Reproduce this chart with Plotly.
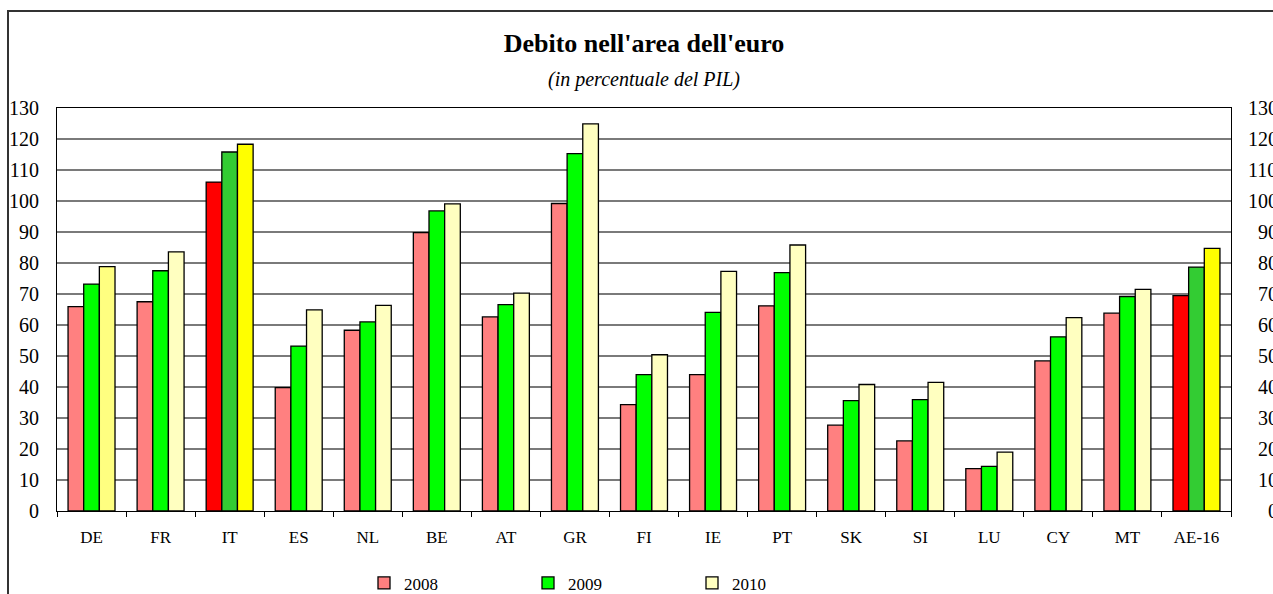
import plotly.graph_objects as go

countries = ["DE", "FR", "IT", "ES", "NL", "BE", "AT", "GR", "FI", "IE", "PT", "SK", "SI", "LU", "CY", "MT", "AE-16"]
debt_2008 = [65.9, 67.5, 106.1, 39.8, 58.3, 89.8, 62.6, 99.2, 34.3, 44.0, 66.2, 27.7, 22.6, 13.7, 48.4, 63.8, 69.5]
debt_2009 = [73.2, 77.5, 115.8, 53.2, 61.0, 96.8, 66.6, 115.3, 44.0, 64.1, 76.9, 35.6, 35.9, 14.4, 56.2, 69.2, 78.7]
debt_2010 = [78.8, 83.6, 118.3, 64.9, 66.3, 99.1, 70.3, 124.9, 50.4, 77.3, 85.8, 40.8, 41.5, 19.0, 62.4, 71.5, 84.7]
years = ["2008", "2009", "2010"]
y_ticks = list(range(0, 131, 10))
# right-axis labels padded with figure spaces so they read right-aligned
y_ticks_right = ["\u2007" * (3 - len(str(v))) + str(v) for v in y_ticks]

base_colors = {"2008": "#FF8080", "2009": "#00FF00", "2010": "#FFFFC0"}
highlight_colors = {"2008": "#FF0000", "2009": "#33CC33", "2010": "#FFFF00"}
highlight = {"IT", "AE-16"}

FONT = "Liberation Serif"

fig = go.Figure()
series = {"2008": debt_2008, "2009": debt_2009, "2010": debt_2010}
for yr in years:
    cols = []
    for c in countries:
        if c in highlight:
            cols.append(highlight_colors[yr])
        elif c == "DE" and yr == "2010":
            cols.append("#FFFF80")
        else:
            cols.append(base_colors[yr])
    fig.add_trace(go.Bar(
        x=countries, y=series[yr], name=yr, offsetgroup=yr,
        marker=dict(color=cols, line=dict(color="#000000", width=1.3)),
        showlegend=False,
    ))
# legend entries
for yr in years:
    fig.add_trace(go.Bar(
        x=[countries[0]], y=[None], name=yr, offsetgroup=yr,
        marker=dict(color=base_colors[yr], line=dict(color="#000000", width=1.3)),
        showlegend=True,
    ))

# invisible trace to drive right axis
fig.add_trace(go.Scatter(x=[countries[0]], y=[None], yaxis="y2", showlegend=False, hoverinfo="skip"))

fig.update_layout(
    width=1273, height=594,
    margin=dict(l=57, r=42, t=108, b=83, autoexpand=False),
    paper_bgcolor="white", plot_bgcolor="white",
    barmode="group", bargap=0.32, bargroupgap=0,
    font=dict(family=FONT, color="#000000", size=17),
    title=dict(
        text="<b>Debito nell'area dell'euro</b><br><span style='font-size:20px'><i>(in percentuale del PIL)</i></span>",
        x=644 / 1273, xanchor="center", y=1 - 52 / 594, yanchor="top",
        font=dict(family=FONT, size=26, color="#000000"),
    ),
    xaxis=dict(
        type="category", range=[-0.5, len(countries) - 0.5],
        showgrid=False, showline=True, linecolor="#000000", linewidth=1,
        mirror=True, ticks="outside", ticklen=5, tickcolor="#000000", tickson="boundaries",
        tickfont=dict(size=17, family=FONT), zeroline=False, ticklabelstandoff=11,
    ),
    yaxis=dict(
        range=[0, 130], tickvals=y_ticks, showgrid=True, gridcolor="#7a7a7a", gridwidth=1.5,
        showline=True, linecolor="#000000", linewidth=1, mirror=True, ticks="",
        tickfont=dict(size=20, family=FONT), zeroline=False, ticklabelstandoff=13,
    ),
    yaxis2=dict(
        range=[0, 130], tickvals=y_ticks, ticktext=y_ticks_right, overlaying="y", side="right",
        showgrid=False, showline=False, ticks="", tickfont=dict(size=20, family=FONT),
        zeroline=False, ticklabelstandoff=16,
    ),
    legend=dict(
        orientation="h", x=(364 - 57) / 1174, xanchor="left", y=-0.135, yanchor="top",
        font=dict(size=17, family=FONT), entrywidth=119, entrywidthmode="pixels",
        traceorder="normal", bgcolor="rgba(0,0,0,0)",
    ),
    shapes=[dict(
        type="rect", xref="paper", yref="paper",
        x0=(8 - 57) / 1174, x1=1.2, y0=-0.4, y1=1 + (108 - 11) / 403,
        line=dict(color="#333333", width=2), fillcolor="rgba(0,0,0,0)", layer="below",
    )],
)

fig.write_html(
    "out.html",
    config={"displayModeBar": False},
    post_script="document.body.style.margin='0';document.body.style.padding='0';",
)
